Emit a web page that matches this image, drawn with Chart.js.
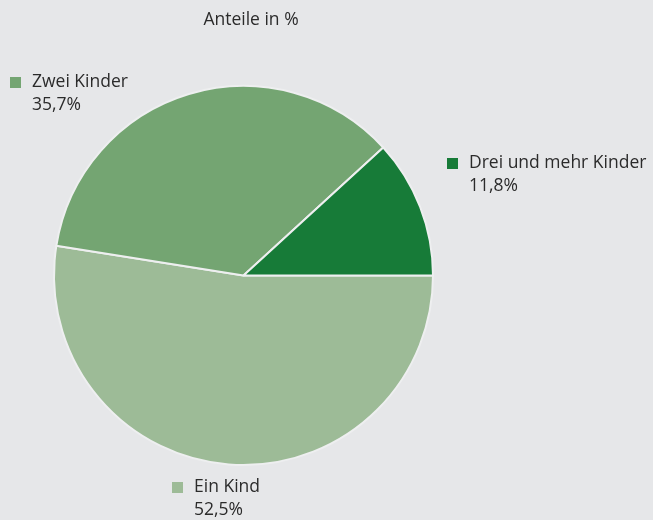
<!DOCTYPE html>
<html lang="de">
<head>
    <meta charset="UTF-8">
    <title>Anteile in %</title>
    <script src="https://cdn.jsdelivr.net/npm/chart.js"></script>
    <style>
        html, body {
            margin: 0;
            padding: 0;
            background: #e6e7e9;
        }
        #wrap {
            width: 653px;
            height: 520px;
            position: relative;
        }
    </style>
</head>
<body>
<div id="wrap">
    <canvas id="pieChart" width="653" height="520"></canvas>
</div>
<script>
    // data, clockwise from 3 o'clock
    const categories = ['Ein Kind', 'Zwei Kinder', 'Drei und mehr Kinder'];
    const shares = [52.5, 35.7, 11.8];
    const shareLabels = ['52,5%', '35,7%', '11,8%'];
    const colors = ['#9dbb97', '#74a572', '#177b38'];

    // where each label block sits (marker top-left)
    const labelPos = [
        { x: 172, y: 482 },
        { x: 10, y: 77 },
        { x: 447, y: 158 }
    ];

    const textColor = '#2b2b2b';
    const font = '17.5px "Open Sans", sans-serif';

    const labelsPlugin = {
        id: 'pieLabels',
        afterDraw(chart) {
            const ctx = chart.ctx;
            ctx.save();
            ctx.font = font;
            ctx.fillStyle = textColor;
            ctx.textAlign = 'center';
            ctx.textBaseline = 'middle';
            ctx.fillText('Anteile in %', 251, 20);

            ctx.textAlign = 'left';
            categories.forEach((name, i) => {
                const p = labelPos[i];
                ctx.fillStyle = colors[i];
                ctx.fillRect(p.x, p.y, 11, 11);
                ctx.fillStyle = textColor;
                ctx.fillText(name, p.x + 22, p.y + 5);
                ctx.fillText(shareLabels[i], p.x + 22, p.y + 28);
            });
            ctx.restore();
        }
    };

    new Chart(document.getElementById('pieChart'), {
        type: 'pie',
        data: {
            labels: categories,
            datasets: [{
                data: shares,
                backgroundColor: colors,
                borderColor: '#eeeff0',
                borderWidth: 2
            }]
        },
        options: {
            responsive: false,
            animation: false,
            rotation: 90,
            layout: {
                padding: { left: 53, right: 219, top: 85, bottom: 54 }
            },
            plugins: {
                legend: { display: false },
                tooltip: { enabled: false }
            }
        },
        plugins: [labelsPlugin]
    });
</script>
</body>
</html>
